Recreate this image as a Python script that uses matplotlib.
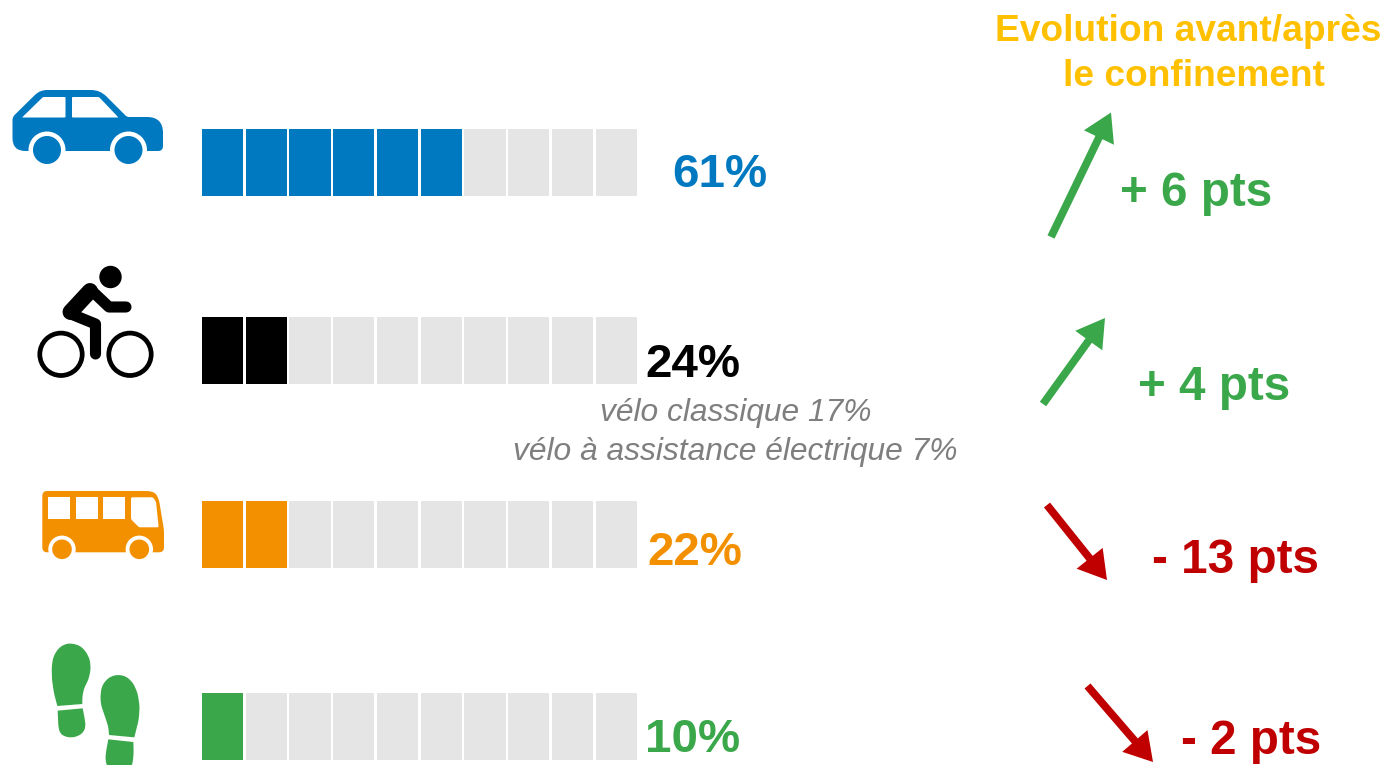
import matplotlib
matplotlib.use("Agg")
import matplotlib.pyplot as plt
from matplotlib.patches import Circle, FancyArrowPatch, PathPatch, Rectangle
from matplotlib.path import Path

plt.rcParams['font.family'] = ['Liberation Sans', 'DejaVu Sans']

# donnees
modes = ["voiture", "velo", "bus", "marche"]
shares = [61, 24, 22, 10]
filled_cells = [6, 2, 2, 1]
evolutions = ["+ 6 pts", "+ 4 pts", "- 13 pts", "- 2 pts"]
bike_details = ["vélo classique 17%", "vélo à assistance électrique 7%"]
title_lines = ["Evolution avant/après", "le confinement"]
total_cells = 10

BLUE = "#0079C1"
BLACK = "#000000"
ORANGE = "#F39000"
GREEN = "#3AA84A"
RED = "#C00000"
GREY = "#E5E5E5"
colors = [BLUE, BLACK, ORANGE, GREEN]
evo_colors = [GREEN, GREEN, RED, RED]

# mise en page, en pixels
row_top = [129, 317, 501, 693]
cell_x0, cell_pitch, cell_w, cell_h = 202, 43.74, 41.1, 67
share_pos = [(672.5, 187), (645, 377), (647, 565), (645, 752)]
evo_pos = [(1120, 205.5), (1138, 400), (1152, 573), (1181, 754)]
arrows = [((1051, 237), (1111, 112.5)), ((1043, 404), (1105, 318)),
          ((1047, 505), (1107, 580)), ((1087.5, 686), (1153, 762))]


def rounded(pts, radii):
    # polygone a coins arrondis
    verts, codes = [], []
    n = len(pts)
    for i in range(n):
        x, y = pts[i]
        r = radii[i] if isinstance(radii, list) else radii
        px, py = pts[i - 1]
        nx, ny = pts[(i + 1) % n]
        d1 = ((px - x) ** 2 + (py - y) ** 2) ** 0.5
        d2 = ((nx - x) ** 2 + (ny - y) ** 2) ** 0.5
        a = (x + (px - x) * min(r, d1 / 2) / d1, y + (py - y) * min(r, d1 / 2) / d1)
        b = (x + (nx - x) * min(r, d2 / 2) / d2, y + (ny - y) * min(r, d2 / 2) / d2)
        verts += [a, (x, y), b]
        codes += [Path.MOVETO if i == 0 else Path.LINETO, Path.CURVE3, Path.CURVE3]
    verts.append(verts[0])
    codes.append(Path.CLOSEPOLY)
    return Path(verts, codes)


def shape(ax, path, color):
    ax.add_patch(PathPatch(path, fc=color, ec="none", zorder=3))


def wheel(ax, x, y, r, arch, color):
    ax.add_patch(Circle((x, y), arch, fc="white", ec="none", zorder=4))
    ax.add_patch(Circle((x, y), r, fc=color, ec="none", zorder=5))


def draw_car(ax):
    body = [(12.5, 117), (40, 90), (100, 90), (127, 117), (163, 117), (163, 151), (12.5, 151)]
    shape(ax, rounded(body, [3, 7, 9, 2, 16, 5, 13]), BLUE)
    for win in ([(22, 117.5), (43, 97), (65.5, 97), (65.5, 117.5)],
                [(72, 97), (99, 97), (118.5, 117.5), (72, 117.5)]):
        ax.add_patch(PathPatch(rounded(win, 1), fc="white", ec="none", zorder=4))
    wheel(ax, 47, 150, 14, 18.5, BLUE)
    wheel(ax, 128.5, 150, 14, 18.5, BLUE)
    ax.add_patch(Rectangle((10, 151.5), 160, 20, fc="white", ec="none", zorder=4.5))


def draw_bike(ax):
    ax.add_patch(Circle((110.5, 277), 11.2, fc=BLACK, ec="none", zorder=3))
    for cx in (61, 130):
        ax.add_patch(Circle((cx, 354.3), 21.2, fc="none", ec=BLACK, lw=3.4, zorder=3))
    ax.plot([90, 70.5], [291, 312], color=BLACK, lw=11.5, solid_capstyle="round", zorder=3)
    ax.plot([71, 95.5, 95.5], [314, 324, 354], color=BLACK, lw=8, solid_capstyle="round",
            solid_joinstyle="round", zorder=3)
    ax.plot([91, 109, 126], [290, 307, 307], color=BLACK, lw=8, solid_capstyle="round",
            solid_joinstyle="round", zorder=3)


def draw_bus(ax):
    body = [(42.3, 491), (153, 491), (158.5, 497), (164, 530), (164, 552.3), (42.3, 552.3)]
    shape(ax, rounded(body, [5, 7, 6, 3, 5, 5]), ORANGE)
    for x0 in (48, 75.7, 103.3):
        ax.add_patch(Rectangle((x0, 497.3), 22, 22, fc="white", ec="none", zorder=4))
    win = [(131, 497.3), (153, 497.3), (156, 501.7), (158.7, 527.3), (139, 527.3), (131, 519.3)]
    ax.add_patch(PathPatch(rounded(win, 1.5), fc="white", ec="none", zorder=4))
    wheel(ax, 139.3, 549.3, 9.8, 13.7, ORANGE)
    wheel(ax, 62, 549.3, 9.8, 13.7, ORANGE)
    ax.add_patch(Rectangle((40, 552.5), 126, 12, fc="white", ec="none", zorder=4.5))


def draw_feet(ax):
    def z(pts):
        return [(x / 3, 470 + y / 3) for x, y in pts]
    left_sole = [(172, 708), (162, 670), (156, 630), (155, 590), (160, 560), (175, 535), (195, 522),
                 (215, 520), (240, 527), (258, 545), (270, 570), (272, 600), (265, 630), (252, 655),
                 (247, 680), (247, 702)]
    left_heel = [(173, 722), (248, 715), (254, 745), (257, 770), (250, 787), (235, 798), (215, 803),
                 (195, 800), (180, 790), (175, 770)]
    right_sole = [(327, 795), (325, 770), (315, 740), (303, 705), (301, 680), (305, 650), (318, 630),
                  (335, 618), (357, 614), (380, 620), (400, 640), (413, 670), (419, 710), (416, 750),
                  (403, 802)]
    right_heel = [(325, 808), (400, 816), (401, 850), (398, 880), (390, 900), (325, 900), (316, 870),
                  (318, 845)]
    for part in (left_sole, left_heel, right_sole, right_heel):
        radii = [0.3] + [3.5] * (len(part) - 1)
        radii[-1 if part in (left_sole, right_sole) else 1] = 0.3
        shape(ax, rounded(z(part), radii), GREEN)


fig = plt.figure(figsize=(13.84, 7.65), dpi=100)
ax = fig.add_axes([0, 0, 1, 1])
ax.set_xlim(0, 1384)
ax.set_ylim(765, 0)
ax.axis("off")

for i, mode in enumerate(modes):
    for j in range(total_cells):
        c = colors[i] if j < filled_cells[i] else GREY
        ax.bar(cell_x0 + j * cell_pitch, cell_h, width=cell_w, bottom=row_top[i], align="edge",
               color=c, zorder=2)
    x, y = share_pos[i]
    ax.text(x, y, f"{shares[i]}%", color=colors[i], fontsize=34.2, fontweight="bold", ha="left", va="baseline")
    x, y = evo_pos[i]
    ax.text(x, y, evolutions[i], color=evo_colors[i], fontsize=34.3, fontweight="bold", ha="left", va="baseline")
    ax.add_patch(FancyArrowPatch(arrows[i][0], arrows[i][1],
                                 arrowstyle="simple,head_length=20,head_width=24,tail_width=5.6",
                                 mutation_scale=1, color=evo_colors[i], lw=0, shrinkA=0, shrinkB=0, zorder=3))

ax.text(600, 421, bike_details[0], color="#7F7F7F", fontsize=22.9, style="italic", ha="left", va="baseline")
ax.text(513, 460, bike_details[1], color="#7F7F7F", fontsize=22.9, style="italic", ha="left", va="baseline")
ax.text(1188.5, 41, title_lines[0], color="#FFC000", fontsize=26.7, fontweight="bold", ha="center", va="baseline")
ax.text(1194, 86, title_lines[1], color="#FFC000", fontsize=26.7, fontweight="bold", ha="center", va="baseline")

draw_car(ax)
draw_bike(ax)
draw_bus(ax)
draw_feet(ax)

plt.savefig("out.png", dpi=100)
